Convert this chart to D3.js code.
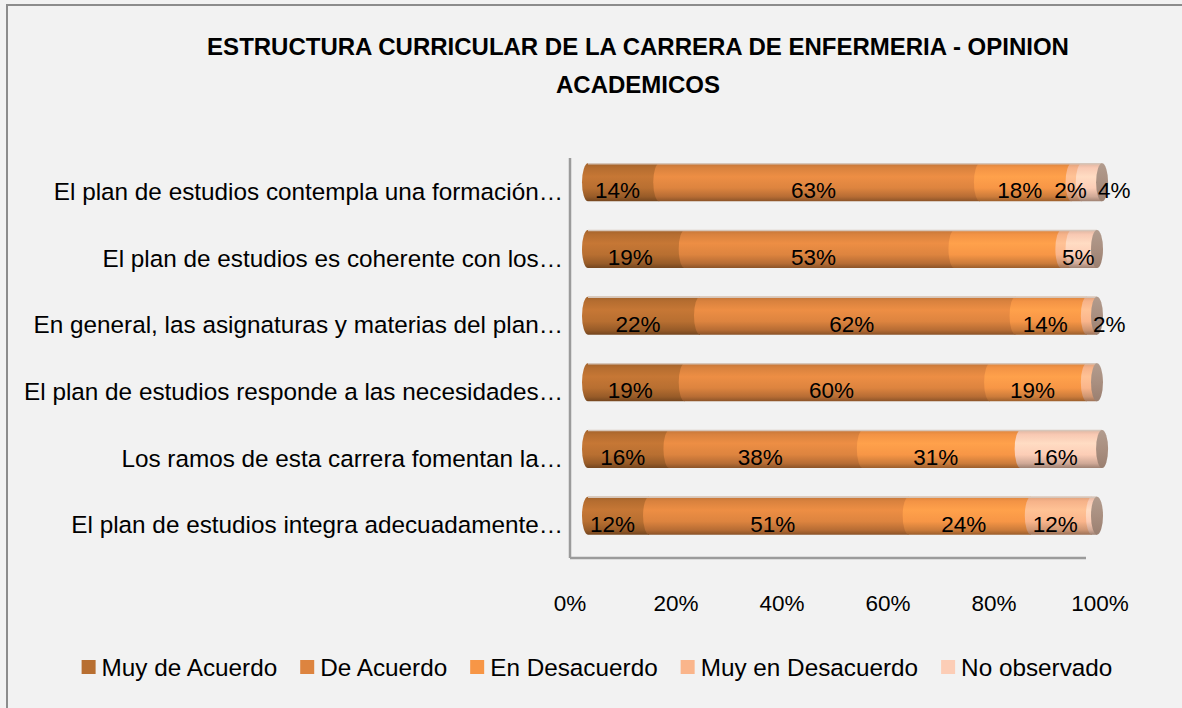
<!DOCTYPE html>
<html>
<head>
<meta charset="utf-8">
<script src="https://cdn.jsdelivr.net/npm/d3@7"></script>
<style>
  body { margin: 0; background: #f2f2f2; }
  svg { display: block; font-family: "Liberation Sans", Arial, sans-serif; }
</style>
</head>
<body>
<div id="chart"></div>
<script>
// data
const categories = [
  "El plan de estudios contempla una formación…",
  "El plan de estudios es coherente con los…",
  "En general, las asignaturas y materias del plan…",
  "El plan de estudios responde a las necesidades…",
  "Los ramos de esta carrera fomentan la…",
  "El plan de estudios integra adecuadamente…"
];
const series = ["Muy de Acuerdo", "De Acuerdo", "En Desacuerdo", "Muy en Desacuerdo", "No observado"];
const muyDeAcuerdo     = [14, 19, 22, 19, 16, 12];
const deAcuerdo        = [63, 53, 62, 60, 38, 51];
const enDesacuerdo     = [18, 21, 14, 19, 31, 24];
const muyEnDesacuerdo  = [2, 2, 2, 2, 0, 12];
const noObservado      = [4, 5, 0, 0, 16, 1];
// labels that are not shown in the chart: [row, series]
const hiddenLabels = [[1, 2], [1, 3], [3, 3], [5, 4]];
const xTicks = [0, 20, 40, 60, 80, 100];

const colors = ["#b86f31", "#dd843f", "#f79646", "#fab58b", "#fccdb6"];

const W = 1182, H = 708;
const svg = d3.select("#chart").append("svg")
  .attr("width", W)
  .attr("height", H);

svg.append("rect")
  .attr("x", 0).attr("y", 0).attr("width", W).attr("height", H)
  .attr("fill", "#f2f2f2");
svg.append("rect")
  .attr("x", 7).attr("y", 5).attr("width", 1200).attr("height", 720)
  .attr("fill", "none").attr("stroke", "#8c8c8c").attr("stroke-width", 2);

// title
const title = svg.append("text")
  .attr("text-anchor", "middle")
  .attr("font-weight", "bold")
  .attr("font-size", 24)
  .attr("fill", "#000");
title.append("tspan").attr("x", 638).attr("y", 55)
  .text("ESTRUCTURA CURRICULAR DE LA CARRERA DE ENFERMERIA - OPINION");
title.append("tspan").attr("x", 638).attr("y", 93)
  .text("ACADEMICOS");

// gradients, one per series
const defs = svg.append("defs");
colors.forEach((c, i) => {
  const base = d3.color(c);
  const g = defs.append("linearGradient")
    .attr("id", "grad" + i)
    .attr("x1", 0).attr("y1", 0).attr("x2", 0).attr("y2", 1);
  g.append("stop").attr("offset", "0%").attr("stop-color", base.darker(0.35));
  g.append("stop").attr("offset", "12%").attr("stop-color", base.darker(0.05));
  g.append("stop").attr("offset", "35%").attr("stop-color", base.brighter(0.2));
  g.append("stop").attr("offset", "65%").attr("stop-color", base);
  g.append("stop").attr("offset", "88%").attr("stop-color", base.darker(0.55));
  g.append("stop").attr("offset", "100%").attr("stop-color", base.darker(1.3));
});
const capGrad = defs.append("linearGradient")
  .attr("id", "capgrad")
  .attr("x1", 0).attr("y1", 0).attr("x2", 0).attr("y2", 1);
capGrad.append("stop").attr("offset", "0%").attr("stop-color", "#b29c8e");
capGrad.append("stop").attr("offset", "50%").attr("stop-color", "#a98f80");
capGrad.append("stop").attr("offset", "100%").attr("stop-color", "#9a7f70");

// scales
const y = d3.scaleBand()
  .domain(categories)
  .range([158, 558]);
const xAxisScale = d3.scaleLinear().domain([0, 100]).range([570, 1100]);
// the bars are drawn in perspective, so they sit on their own scale
const xBar = d3.scaleLinear().domain([0, 100]).range([582, 1091]);

const barH = 38, lift = 9, rx = 6;

// axis lines (3D floor / wall edges)
svg.append("line")
  .attr("x1", 570).attr("x2", 570)
  .attr("y1", y.range()[0]).attr("y2", y.range()[1])
  .attr("stroke", "#9b9b9b").attr("stroke-width", 2.5);
svg.append("line")
  .attr("x1", 570).attr("x2", 1086)
  .attr("y1", y.range()[1]).attr("y2", y.range()[1])
  .attr("stroke", "#9b9b9b").attr("stroke-width", 2.5);

// category labels
svg.selectAll(".cat")
  .data(categories)
  .join("text")
  .attr("class", "cat")
  .attr("x", 563)
  .attr("y", d => y(d) + y.bandwidth() / 2)
  .attr("dy", "0.35em")
  .attr("text-anchor", "end")
  .attr("font-size", 24.3)
  .attr("fill", "#000")
  .text(d => d);

// x tick labels
svg.selectAll(".tick-label")
  .data(xTicks)
  .join("text")
  .attr("class", "tick-label")
  .attr("x", d => xAxisScale(d))
  .attr("y", 603)
  .attr("dy", "0.35em")
  .attr("text-anchor", "middle")
  .attr("font-size", 22.5)
  .attr("fill", "#000")
  .text(d => d + "%");

// build stacked rows
const allSeries = [muyDeAcuerdo, deAcuerdo, enDesacuerdo, muyEnDesacuerdo, noObservado];
const rows = categories.map((c, r) => {
  let acc = 0;
  const segs = allSeries.map((arr, s) => {
    const seg = { row: r, s: s, v: arr[r], x0: acc, x1: acc + arr[r] };
    acc += arr[r];
    return seg;
  });
  return { cat: c, segs: segs, total: acc };
});

function segPath(x0, x1, top, bot) {
  const ry = (bot - top) / 2;
  return `M${x0 + rx},${top} L${x1 + rx},${top} L${x1 + rx},${bot} L${x0 + rx},${bot} ` +
    `A${rx},${ry} 0 0 1 ${x0 + rx},${top} Z`;
}

const hidden = new Set(hiddenLabels.map(d => d[0] + "-" + d[1]));

rows.forEach((row, r) => {
  const cy = y(row.cat) + y.bandwidth() / 2 - lift;
  const top = cy - barH / 2, bot = cy + barH / 2;
  const g = svg.append("g");

  g.selectAll("path.seg")
    .data(row.segs.filter(d => d.v > 0))
    .join("path")
    .attr("class", "seg")
    .attr("d", d => segPath(xBar(d.x0), xBar(d.x1), top, bot))
    .attr("fill", d => `url(#grad${d.s})`);

  // top rim
  g.append("line")
    .attr("x1", xBar(0) + rx).attr("x2", xBar(row.total) + rx)
    .attr("y1", top + 0.5).attr("y2", top + 0.5)
    .attr("stroke", "#d6c6ba").attr("stroke-width", 1.5);

  // end cap
  g.append("ellipse")
    .attr("cx", xBar(row.total) + rx)
    .attr("cy", cy)
    .attr("rx", rx)
    .attr("ry", barH / 2)
    .attr("fill", "url(#capgrad)");

  // data labels
  const labels = row.segs.filter(d => d.v > 0 && !hidden.has(r + "-" + d.s));
  const lastLabeled = row.segs.filter(d => d.v > 0).slice(-1)[0];
  let prevRight = -Infinity;
  labels.forEach(d => {
    const t = g.append("text")
      .attr("y", cy + 8)
      .attr("dy", "0.35em")
      .attr("font-size", 22.5)
      .attr("fill", "#000")
      .text(d.v + "%");
    const w = t.node().getComputedTextLength();
    const segW = xBar(d.x1) - xBar(d.x0);
    let left;
    if (d === lastLabeled && segW < w * 0.65) {
      left = xBar(row.total) + 2;
    } else {
      left = (xBar(d.x0) + xBar(d.x1)) / 2 - w / 2;
    }
    if (left < prevRight + 4) left = prevRight + 4;
    t.attr("x", left);
    prevRight = left + w;
  });
});

// legend
const legend = svg.append("g");
let lx = 0;
const legendGap = 23;
series.forEach((s, i) => {
  const item = legend.append("g");
  item.append("rect")
    .attr("x", 0).attr("y", -7)
    .attr("width", 14).attr("height", 14)
    .attr("fill", colors[i]);
  const t = item.append("text")
    .attr("x", 20).attr("y", 0)
    .attr("dy", "0.35em")
    .attr("font-size", 24.3)
    .attr("fill", "#000")
    .text(s);
  const w = 20 + t.node().getComputedTextLength();
  item.attr("transform", `translate(${lx},0)`);
  lx += w + legendGap;
});
const legendW = lx - legendGap;
legend.attr("transform", `translate(${597 - legendW / 2}, 667)`);
</script>
</body>
</html>
